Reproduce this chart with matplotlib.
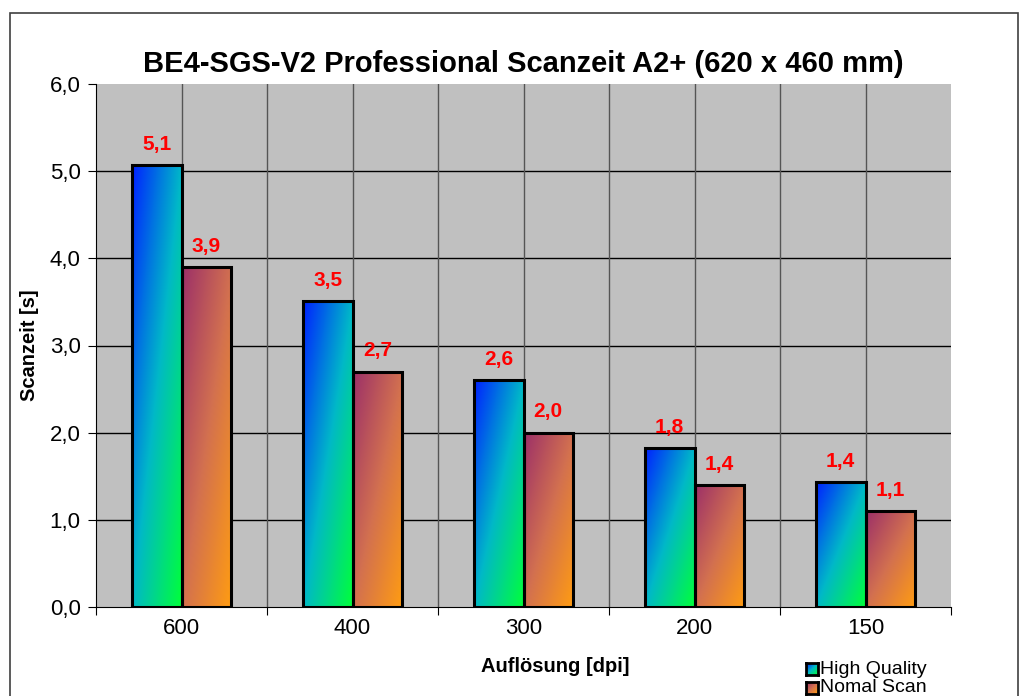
import numpy as np
import matplotlib.pyplot as plt
from matplotlib.colors import LinearSegmentedColormap
from matplotlib.patches import Rectangle

plt.rcParams['font.family'] = ['Liberation Sans', 'DejaVu Sans']

# ─── data ─────────────────────────────────────────────
categories = ["600", "400", "300", "200", "150"]
high_quality = [5.07, 3.51, 2.60, 1.82, 1.43]
normal_scan = [3.90, 2.70, 2.00, 1.40, 1.10]
series_names = ["High Quality", "Nomal Scan"]

cmap_hq = LinearSegmentedColormap.from_list("hq", ["#0022ff", "#00b8c8", "#00ff3a"])
cmap_ns = LinearSegmentedColormap.from_list("ns", ["#9c3068", "#d27050", "#ff9c12"])

def grad_img(n=64):
    u = np.linspace(0, 1, n)[None, :]
    v = np.linspace(0, 1, n)[:, None]
    return (u + v) / 2.0  # top-left -> bottom-right

W, H = 1019, 696
fig = plt.figure(figsize=(W / 100, H / 100), dpi=100)
ax = fig.add_axes([96 / W, 1 - 607 / H, 855 / W, 523 / H])
ax.set_facecolor("#c0c0c0")

# outer chart border
fig.patches.append(Rectangle((10 / W, -0.02), 1007.5 / W, 1.02 - 13 / H,
                             transform=fig.transFigure, fill=False,
                             edgecolor="#404040", lw=1.2, zorder=0))

x = np.arange(len(categories)) + 0.5
bw = 0.29

# grid
for yv in range(1, 6):
    ax.axhline(yv, color="black", lw=1.0, zorder=1)
for xv in np.arange(0.5, 5.0, 0.5):
    ax.axvline(xv, color="#555555", lw=1.0, zorder=1)

for vals, cmap, off in [(high_quality, cmap_hq, -bw / 2), (normal_scan, cmap_ns, bw / 2)]:
    bars = ax.bar(x + off, vals, width=bw, facecolor="none", edgecolor="black",
                  lw=2.2, zorder=4)
    for b, v in zip(bars, vals):
        bx, by, bwid, bh = b.get_x(), b.get_y(), b.get_width(), b.get_height()
        ax.imshow(grad_img(), cmap=cmap, vmin=0, vmax=1, aspect="auto",
                  extent=[bx, bx + bwid, by, by + bh], zorder=3, interpolation="bilinear")
        ax.text(bx + bwid / 2, by + bh + 0.13, f"{v:.1f}".replace(".", ","),
                ha="center", va="bottom", color="#ff0000", fontsize=15,
                fontweight="bold", zorder=5)

ax.set_xlim(0, 5)
ax.set_ylim(0, 6)

for s in ["top", "right"]:
    ax.spines[s].set_visible(False)
ax.spines["left"].set_color("black")
ax.spines["bottom"].set_color("black")

ax.set_yticks(range(0, 7))
ax.set_yticklabels([f"{v},0" for v in range(0, 7)], fontsize=16)
ax.set_xticks(range(0, 6))
ax.set_xticklabels([])
ax.set_xticks(x, minor=True)
ax.set_xticklabels(categories, minor=True, fontsize=16)
ax.tick_params(axis="x", which="major", direction="out", length=6, color="black")
ax.tick_params(axis="x", which="minor", length=0, pad=8)
ax.tick_params(axis="y", direction="out", length=6, pad=5)

ax.set_title("BE4-SGS-V2 Professional Scanzeit A2+ (620 x 460 mm)",
             fontsize=21, fontweight="bold", pad=9)
ax.set_ylabel("Scanzeit [s]", fontsize=14.5, fontweight="bold", labelpad=8)
fig.text(555 / W, 1 - 667 / H, "Auflösung [dpi]", ha="center", va="center",
         fontsize=14.5, fontweight="bold")

# legend
for i, (name, cmap) in enumerate(zip(series_names, [cmap_hq, cmap_ns])):
    yc = 669 + i * 19
    lax = fig.add_axes([806 / W, 1 - (yc + 6) / H, 12 / W, 12 / H])
    lax.imshow(grad_img(16), cmap=cmap, vmin=0, vmax=1, aspect="auto")
    lax.set_xticks([])
    lax.set_yticks([])
    for s in lax.spines.values():
        s.set_linewidth(2)
    fig.text(820 / W, 1 - yc / H, name, ha="left", va="center", fontsize=14)

fig.savefig("out.png", dpi=100)
